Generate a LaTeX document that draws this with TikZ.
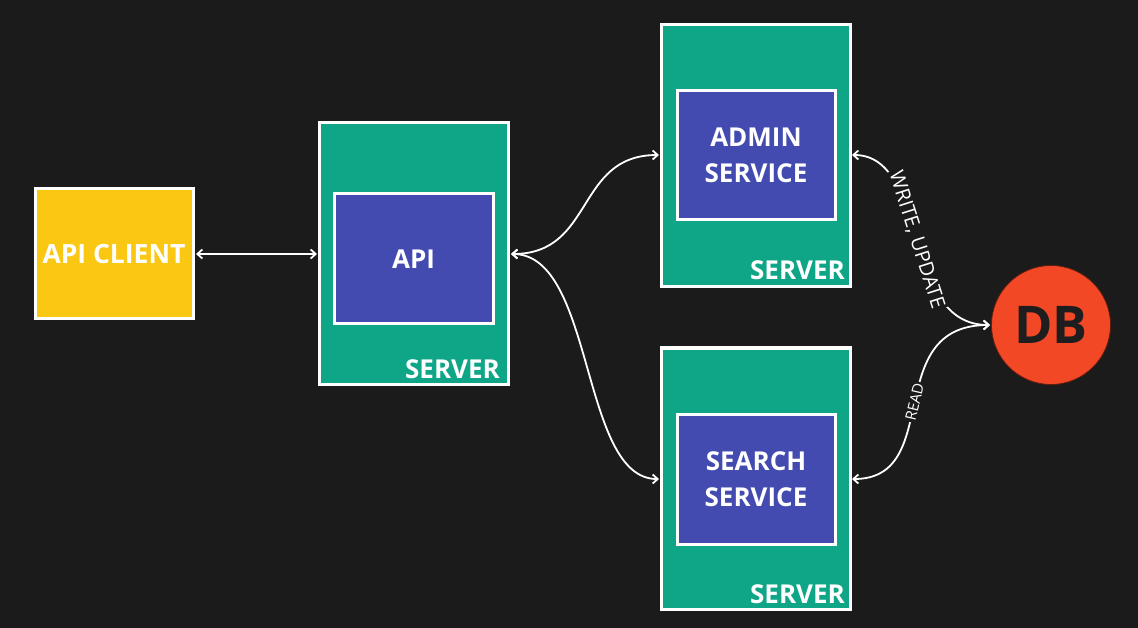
\documentclass[tikz,border=0pt]{standalone}
\usepackage{fontspec}
\setmainfont{Open Sans}
\usetikzlibrary{arrows.meta}
\definecolor{bg}{HTML}{1B1B1B}
\definecolor{ylw}{HTML}{FAC812}
\definecolor{teal}{HTML}{0EA687}
\definecolor{blu}{HTML}{434BB0}
\definecolor{dbred}{HTML}{F24826}
\definecolor{dark}{HTML}{1E1E1E}
\begin{document}
\begin{tikzpicture}[x=1pt,y=-1pt,
  box/.style={draw=white,line width=3pt,inner sep=0pt},
  servbox/.style={box,fill=teal},
  svcbox/.style={box,fill=blu,text=white,font=\bfseries\fontsize{26}{36}\selectfont,align=center},
  srvlabel/.style={anchor=base east,inner sep=0pt,text=white,font=\bfseries\fontsize{26}{31}\selectfont},
  conn/.style={draw=white,line width=1.8pt,{Straight Barb[length=5pt,width=9pt]}-{Straight Barb[length=5pt,width=9pt]}},
  lbl/.style={sloped,fill=bg,text=white,inner sep=1.5pt}]
\fill[bg] (0,0) rectangle (1138,628);
\useasboundingbox (0,0) rectangle (1138,628);
% API client
\node[box,fill=ylw,minimum width=158pt,minimum height=130pt,text=white,font=\bfseries\fontsize{26.5}{31}\selectfont] (client) at (114,254) {API CLIENT};
% API server
\node[servbox,minimum width=189pt,minimum height=261pt] (apisrv) at (413.5,253.5) {};
\node[svcbox,minimum width=159pt,minimum height=130pt] (api) at (413.5,259) {API};
\node[srvlabel] (apisl) at (500,378) {SERVER};
% Admin server
\node[servbox,minimum width=189pt,minimum height=262pt] (admsrv) at (755.5,156) {};
\node[svcbox,minimum width=158pt,minimum height=129pt] (adm) at (756,155.5) {ADMIN\\SERVICE};
\node[srvlabel] (admsl) at (845,280) {SERVER};
% Search server
\node[servbox,minimum width=189pt,minimum height=261pt] (srchsrv) at (755.5,478.5) {};
\node[svcbox,minimum width=158pt,minimum height=130pt] (srch) at (756,479) {SEARCH\\SERVICE};
\node[srvlabel] (srchsl) at (845,603) {SERVER};
% DB
\node[circle,fill=dbred,draw=dbred!40!black,line width=0.8pt,minimum size=119pt,inner sep=0pt,text=dark,font=\bfseries\fontsize{52}{60}\selectfont] (db) at (1051,325) {DB};
% anchor coordinates
\coordinate (cR) at (196,254);
\coordinate (aL) at (317,254);
\coordinate (aR) at (511,254);
\coordinate (admL) at (659,155);
\coordinate (admR) at (852,155);
\coordinate (srL) at (659,479);
\coordinate (srR) at (852,479);
\coordinate (dbL) at (990,325);
% connectors
\draw[conn] (cR) -- (aL);
\draw[conn] (aR) .. controls (595,254) and (575,155) .. (admL);
\draw[conn] (aR) .. controls (595,254) and (580,479) .. (srL);
\draw[conn] (admR) .. controls (930,155) and (900,325) .. node[lbl,font=\fontsize{20}{22}\selectfont] {WRITE, UPDATE} (dbL);
\draw[conn] (srR) .. controls (945,479) and (880,325) .. node[lbl,font=\fontsize{15}{17}\selectfont] {READ} (dbL);
\end{tikzpicture}
\end{document}
